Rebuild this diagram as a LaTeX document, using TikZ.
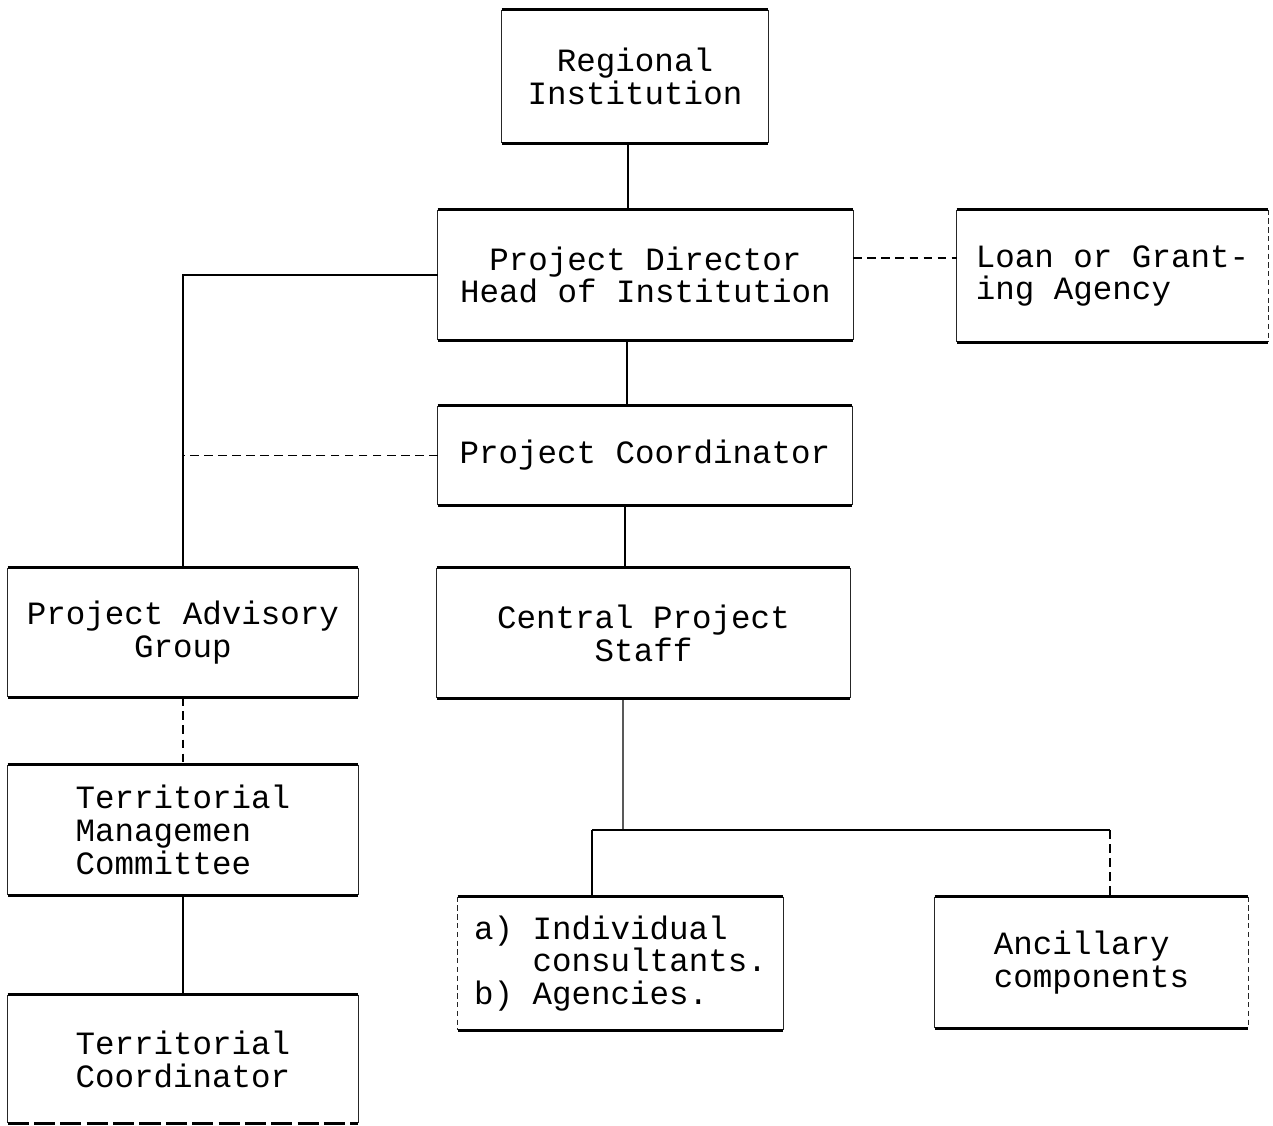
\documentclass[tikz,border=0pt]{standalone}
\usepackage{fontspec}
\setmonofont{Liberation Mono}
\begin{document}
\begin{tikzpicture}[x=0.02cm,y=-0.02cm,
  box/.style={draw=none,inner sep=0pt,align=center,
    font=\ttfamily\fontsize{18.5}{18.7}\selectfont},
  side/.style={line width=0.7pt,black!85},
  edge/.style={line width=1.5pt,black},
  conn/.style={line width=0.8pt,black},
  dconn/.style={line width=0.8pt,black,dash pattern=on 5pt off 3pt},
  thinside/.style={dash pattern=on 3pt off 2pt}]
\useasboundingbox (0,0) rectangle (1273,1125);
\newcommand\boxedges[4]{%
  \draw[side,#2] (#1.north west) -- (#1.south west);
  \draw[side,#3] (#1.north east) -- (#1.south east);
  \draw[edge] (#1.north west) -- (#1.north east);
  \draw[edge,#4] (#1.south west) -- (#1.south east);}

\node[box,minimum width=5.32cm,minimum height=2.66cm] (reg) at (635,76.5) {Regional\\Institution};
\node[box,minimum width=8.3cm,minimum height=2.6cm] (dir) at (645.5,275) {Project Director\\Head of Institution};
\node[box,align=left,minimum width=6.22cm,minimum height=2.64cm] (loan) at (1112.5,276) {Loan or Grant-\\ing Agency};
\node[box,minimum width=8.28cm,minimum height=1.98cm] (coord) at (645,455.5) {Project Coordinator};
\node[box,minimum width=7.0cm,minimum height=2.58cm] (adv) at (183,632.5) {Project Advisory\\Group};
\node[box,minimum width=8.26cm,minimum height=2.6cm] (staff) at (643.5,633) {Central Project\\Staff};
\node[box,align=left,minimum width=7.0cm,minimum height=2.6cm] (tmc) at (183,830) {Territorial\\Managemen\\Committee};
\node[box,align=left,minimum width=7.0cm,minimum height=2.56cm] (tc) at (183,1059) {Territorial\\Coordinator};
\node[box,align=left,minimum width=6.5cm,minimum height=2.66cm] (indiv) at (620.5,963.5) {a) Individual\\\phantom{a) }consultants.\\b) Agencies.};
\node[box,align=left,minimum width=6.26cm,minimum height=2.62cm] (anc) at (1091.5,962.5) {Ancillary\\components};

\boxedges{reg}{}{}{}
\boxedges{dir}{}{}{}
\boxedges{loan}{}{thinside}{}
\boxedges{coord}{}{}{}
\boxedges{adv}{}{}{}
\boxedges{staff}{}{}{}
\boxedges{tmc}{}{}{}
\boxedges{tc}{}{}{dash pattern=on 12pt off 3pt}
\boxedges{indiv}{thinside}{}{}
\boxedges{anc}{}{thinside}{}

% connectors
\draw[conn] ([xshift=-0.14cm]reg.south) -- ([xshift=-0.14cm]reg.south |- dir.north);
\draw[conn] ([xshift=-0.37cm]dir.south) -- ([xshift=-0.37cm]dir.south |- coord.north);
\draw[conn] ([xshift=-0.37cm]staff.north) -- ([xshift=-0.37cm]staff.north |- coord.south);
\draw[conn] (dir.west) -| (adv.north);
\draw[dconn] (coord.west) -- (coord.west -| adv.north);
\draw[dconn] ([yshift=0.34cm]dir.east) -- ([yshift=0.34cm]dir.east -| loan.west);
\draw[dconn] (adv.south) -- (tmc.north);
\draw[conn] (tmc.south) -- (tc.north);
\coordinate (jn) at (623,830);
\coordinate (bl) at (592,830);
\coordinate (br) at (1110,830);
\draw[conn] ([xshift=-0.41cm]staff.south) -- (jn);
\draw[edge] (bl) -- (br);
\draw[conn] (bl) -- (bl |- indiv.north);
\draw[dconn,line width=0.6pt] (br) -- (br |- anc.north);
\end{tikzpicture}
\end{document}
